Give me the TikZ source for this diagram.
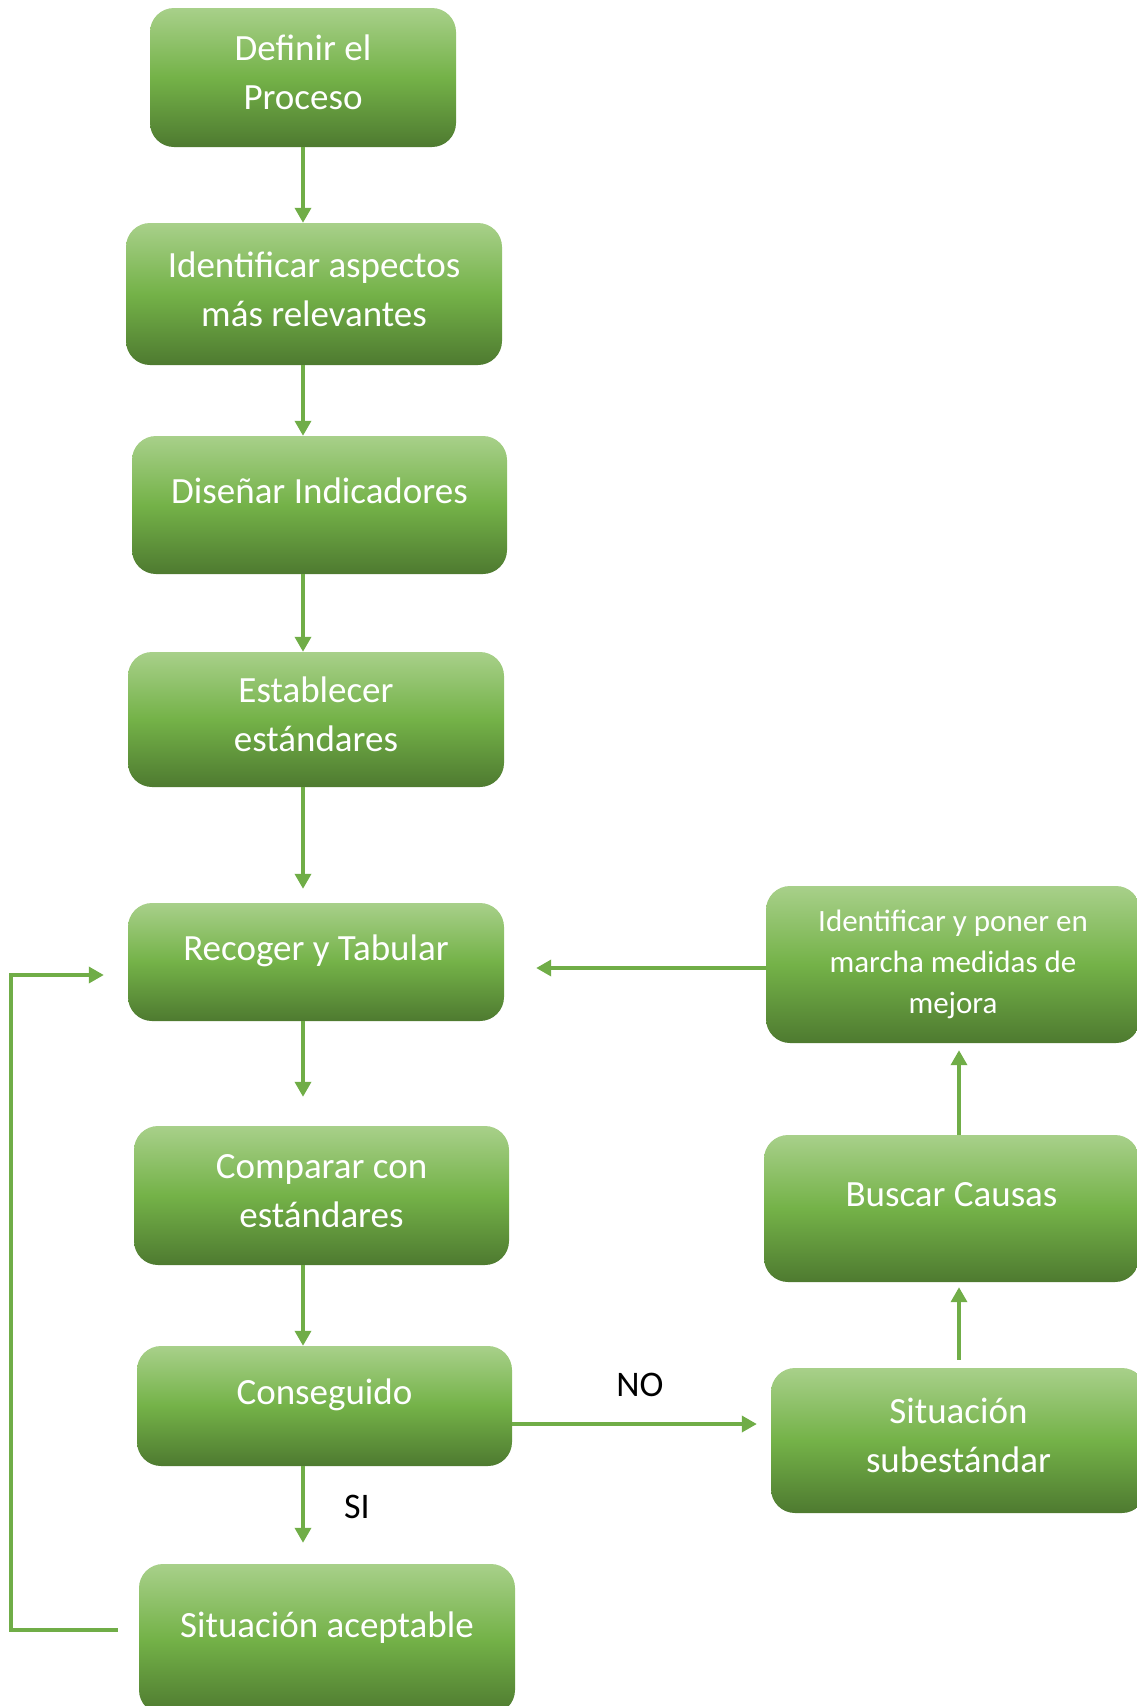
\documentclass[tikz,border=0pt]{standalone}
\usepackage{fontspec}
\setmainfont{Carlito}
\usetikzlibrary{arrows.meta}
\definecolor{boxtop}{RGB}{168,208,138}
\definecolor{boxmid}{RGB}{116,178,72}
\definecolor{boxbot}{RGB}{78,122,48}
\definecolor{flowgreen}{RGB}{112,173,71}
\tikzset{
  stepbox/.style={rounded corners=24pt, top color=boxtop, bottom color=boxbot,
    middle color=boxmid, text=white, align=center, inner sep=0pt,
    font=\fontsize{37}{49}\selectfont},
  oneline/.style={text height=24pt, text depth=28pt},
  tworow/.style={text depth=10pt},
  flow/.style={draw=flowgreen, line width=3.5pt, -{Triangle[width=16pt,length=15pt]}},
  answer/.style={text=black, font=\fontsize{36}{44}\selectfont}
}
\begin{document}
\begin{tikzpicture}[x=1pt,y=-1pt]
    \useasboundingbox (0,0) rectangle (1137,1706);
    % main column
    \node[stepbox, tworow, minimum width=306pt, minimum height=139pt] (def) at (303,77.5) {Definir el\\Proceso};
    \node[stepbox, tworow, minimum width=376pt, minimum height=142pt] (ida) at (314,294) {Identificar aspectos\\más relevantes};
    \node[stepbox, oneline, minimum width=375pt, minimum height=138pt] (dis) at (319.5,505) {Diseñar Indicadores};
    \node[stepbox, tworow, minimum width=376pt, minimum height=135pt] (est) at (316,719.5) {Establecer\\estándares};
    \node[stepbox, oneline, minimum width=376pt, minimum height=118pt] (rec) at (316,962) {Recoger y Tabular};
    \node[stepbox, tworow, minimum width=375pt, minimum height=139pt] (com) at (321.5,1195.5) {Comparar con\\estándares};
    \node[stepbox, oneline, minimum width=375pt, minimum height=120pt] (con) at (324.5,1406) {Conseguido};
    \node[stepbox, oneline, minimum width=376pt, minimum height=150pt] (sac) at (327,1639) {Situación aceptable};
    % right column
    \node[stepbox, font=\fontsize{31}{41}\selectfont, minimum width=374pt, minimum height=157pt] (imm) at (953,964.5) {Identificar y poner en\\marcha medidas de\\mejora};
    \node[stepbox, oneline, minimum width=375pt, minimum height=147pt] (bus) at (951.5,1208.5) {Buscar Causas};
    \node[stepbox, tworow, minimum width=375pt, minimum height=145pt] (sub) at (958.5,1440.5) {Situación\\subestándar};
    % connectors
    \coordinate (axis) at (303,0);
    \coordinate (rightaxis) at (959,0);
    \coordinate (nolevel) at (0,1424);
    \coordinate (backlevel) at (0,968);
    \coordinate (loopbl) at (11,1630);
    \coordinate (looptl) at (11,975);
    \draw[flow] (def.south -| axis) -- (ida.north -| axis);
    \draw[flow] (ida.south -| axis) -- (dis.north -| axis);
    \draw[flow] (dis.south -| axis) -- (est.north -| axis);
    \draw[flow, shorten >=14pt] (est.south -| axis) -- (rec.north -| axis);
    \draw[flow, shorten >=29pt] (rec.south -| axis) -- (com.north -| axis);
    \draw[flow] (com.south -| axis) -- (con.north -| axis);
    \draw[flow, shorten >=21pt] (con.south -| axis) -- (sac.north -| axis);
    \draw[flow, shorten >=14pt] (con.east |- nolevel) -- (sub.west |- nolevel);
    \draw[flow, shorten <=8pt, shorten >=5pt] (sub.north -| rightaxis) -- (bus.south -| rightaxis);
    \draw[flow, shorten >=7pt] (bus.north -| rightaxis) -- (imm.south -| rightaxis);
    \draw[flow, shorten >=32pt] (imm.west |- backlevel) -- (rec.east |- backlevel);
    \draw[flow, shorten <=21pt, shorten >=24pt] (sac.west |- loopbl) -- (loopbl) -- (looptl) -- (rec.west |- looptl);
    % answers
    \node[answer] (no) at (640,1385) {NO};
    \node[answer] (si) at (357,1507) {SI};
\end{tikzpicture}
\end{document}
